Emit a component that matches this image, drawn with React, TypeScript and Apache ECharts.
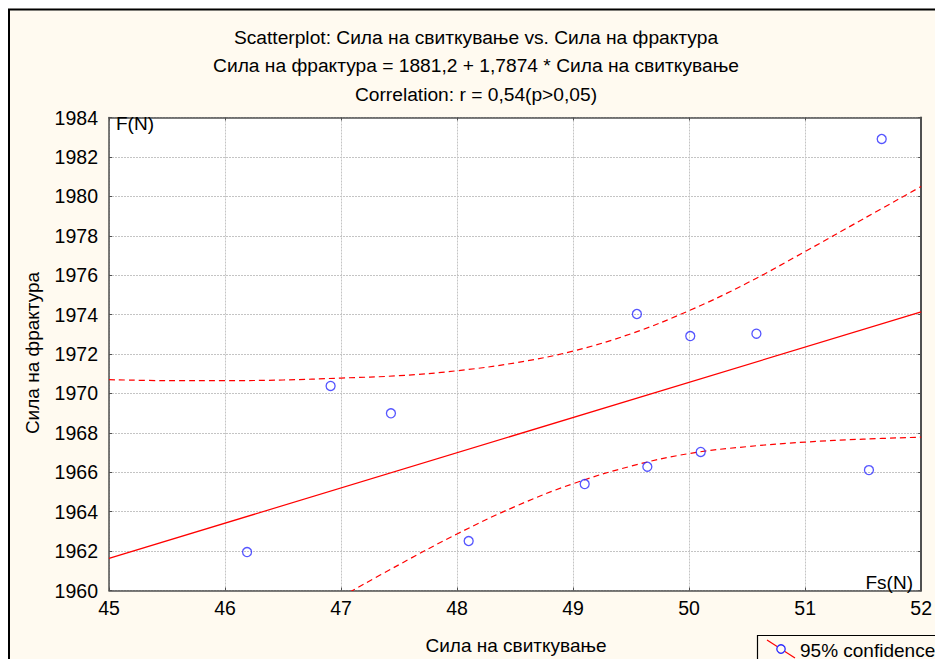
import React, { useEffect, useRef } from "react";
import * as echarts from "echarts";

const titleLines = [
  "Scatterplot: Сила на свиткување vs. Сила на фрактура",
  "Сила на фрактура = 1881,2 + 1,7874 * Сила на свиткување",
  "Correlation: r = 0,54(p>0,05)",
];
const xAxisTitle = "Сила на свиткување";
const yAxisTitle = "Сила на фрактура";
const legendLabel = "95% confidence";

const pointsX = [46.19, 46.91, 47.43, 48.1, 49.1, 49.55, 49.64, 50.01, 50.1, 50.58, 51.55, 51.66];
const pointsY = [1961.95, 1970.38, 1968.99, 1962.51, 1965.4, 1974.03, 1966.28, 1972.91, 1967.03, 1973.03, 1966.11, 1982.91];

const fitX = [45, 52];
const fitY = [1961.63, 1974.14];

const upperX = [45, 45.5, 46, 46.5, 47, 47.5, 48, 48.5, 49, 49.5, 50, 50.5, 51, 51.5, 52];
const upperY = [1970.7, 1970.65, 1970.65, 1970.68, 1970.78, 1970.9, 1971.15, 1971.55, 1972.15, 1973.03, 1974.2, 1975.6, 1977.2, 1978.85, 1980.5];

const lowerX = [47, 47.5, 48, 48.5, 49, 49.5, 50, 50.5, 51, 51.5, 52];
const lowerY = [1959.67, 1961.31, 1962.87, 1964.26, 1965.42, 1966.31, 1966.95, 1967.3, 1967.53, 1967.68, 1967.78];

const FONT = "'Liberation Sans', Arial, sans-serif";

export default function App() {
  const ref = useRef<HTMLDivElement>(null);
  useEffect(() => {
    if (!ref.current) return;
    const chart = echarts.init(ref.current, null, { renderer: "svg" });
    const axisLine = { show: true, lineStyle: { color: "#505050", width: 1.5 } };
    const split = { show: true, lineStyle: { color: "#c4c4c4", type: [2, 1] as any, width: 1 } };
    const plain = (v: number) => String(v);
    chart.setOption({
      animation: false,
      backgroundColor: "#fffaf0",
      textStyle: { fontFamily: FONT },
      grid: {
        left: 109,
        top: 117.5,
        right: 9,
        bottom: 68.5,
        show: true,
        backgroundColor: "#ffffff",
        borderWidth: 0,
      },
      xAxis: [
        {
          type: "value",
          min: 45,
          max: 52,
          interval: 1,
          axisLine,
          axisTick: { show: true, inside: true, length: 3, lineStyle: { color: "#505050" } },
          splitLine: split,
          axisLabel: { color: "#000", fontSize: 19.5, fontFamily: FONT, margin: 7, formatter: plain },
        },
        {
          type: "value",
          position: "top",
          min: 45,
          max: 52,
          interval: 1,
          axisLine,
          axisTick: { show: true, inside: true, length: 3, lineStyle: { color: "#505050" } },
          splitLine: { show: false },
          axisLabel: { show: false },
        },
      ],
      yAxis: [
        {
          type: "value",
          min: 1960,
          max: 1984,
          interval: 2,
          axisLine,
          axisTick: { show: true, inside: true, length: 3, lineStyle: { color: "#505050" } },
          splitLine: split,
          axisLabel: { color: "#000", fontSize: 19.5, fontFamily: FONT, margin: 11, formatter: plain },
        },
        {
          type: "value",
          position: "right",
          min: 1960,
          max: 1984,
          interval: 2,
          axisLine: { show: true, lineStyle: { color: "#505050", width: 2 } },
          axisTick: { show: true, inside: true, length: 3, lineStyle: { color: "#505050" } },
          splitLine: { show: false },
          axisLabel: { show: false },
        },
      ],
      series: [
        {
          type: "line",
          data: fitX.map((x, i) => [x, fitY[i]]),
          showSymbol: false,
          lineStyle: { color: "#ff0000", width: 1.2 },
          clip: true,
          z: 3,
        },
        {
          type: "line",
          data: upperX.map((x, i) => [x, upperY[i]]),
          smooth: 0.4,
          showSymbol: false,
          lineStyle: { color: "#ff0000", width: 1.2, type: [6, 4] },
          clip: true,
          z: 3,
        },
        {
          type: "line",
          data: lowerX.map((x, i) => [x, lowerY[i]]),
          smooth: 0.4,
          showSymbol: false,
          lineStyle: { color: "#ff0000", width: 1.2, type: [6, 4] },
          clip: true,
          z: 3,
        },
        {
          type: "scatter",
          data: pointsX.map((x, i) => [x, pointsY[i]]),
          symbol: "circle",
          symbolSize: 9,
          itemStyle: { color: "transparent", borderColor: "#2a2aff", borderWidth: 1.3 },
          z: 4,
        },
      ],
      graphic: [
        { type: "rect", shape: { x: 0, y: 0, width: 935, height: 8.5 }, style: { fill: "#ffffff" }, silent: true },
        { type: "rect", shape: { x: 0, y: 0, width: 8, height: 659 }, style: { fill: "#ffffff" }, silent: true },
        {
          type: "rect",
          shape: { x: 9, y: 9.5, width: 1000, height: 1000 },
          style: { fill: "none", stroke: "#000000", lineWidth: 2 },
          silent: true,
        },
        ...titleLines.map((t, i) => ({
          type: "text",
          x: 476,
          y: [37, 65, 94][i],
          style: { text: t, fill: "#000", font: `19.2px ${FONT}`, textAlign: "center", textVerticalAlign: "middle" },
          silent: true,
        })),
        {
          type: "text",
          x: 116,
          y: 123,
          z: 10,
          style: { text: "F(N)", fill: "#000", font: `19px ${FONT}`, textAlign: "left", textVerticalAlign: "middle" },
        },
        {
          type: "text",
          x: 913,
          y: 582,
          z: 10,
          style: { text: "Fs(N)", fill: "#000", font: `19px ${FONT}`, textAlign: "right", textVerticalAlign: "middle" },
        },
        {
          type: "text",
          x: 516,
          y: 645,
          style: { text: xAxisTitle, fill: "#000", font: `19px ${FONT}`, textAlign: "center", textVerticalAlign: "middle" },
        },
        {
          type: "text",
          x: 32,
          y: 353,
          rotation: Math.PI / 2,
          style: { text: yAxisTitle, fill: "#000", font: `19px ${FONT}`, textAlign: "center", textVerticalAlign: "middle" },
        },
        {
          type: "rect",
          shape: { x: 757.5, y: 635.5, width: 300, height: 60 },
          style: { fill: "#fffaf0", stroke: "#000", lineWidth: 1.2 },
        },
        {
          type: "line",
          shape: { x1: 767, y1: 640, x2: 795, y2: 658 },
          style: { stroke: "#ff0000", lineWidth: 1.2 },
        },
        {
          type: "circle",
          shape: { cx: 781, cy: 649, r: 4.2 },
          style: { fill: "#fffaf0", stroke: "#2a2aff", lineWidth: 1.3 },
        },
        {
          type: "text",
          x: 800,
          y: 650,
          style: { text: legendLabel, fill: "#000", font: `19px ${FONT}`, textAlign: "left", textVerticalAlign: "middle" },
        },
      ],
    });
    return () => chart.dispose();
  }, []);
  return (
    <div
      ref={ref}
      style={{ position: "fixed", left: 0, top: 0, width: 935, height: 659 }}
    />
  );
}
